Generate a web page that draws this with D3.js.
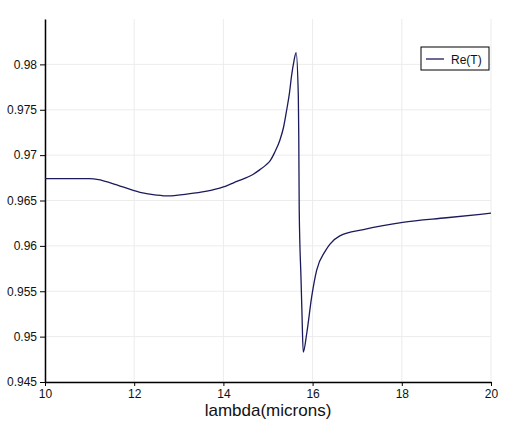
<!DOCTYPE html>
<html>
<head>
<meta charset="utf-8">
<script src="https://cdn.jsdelivr.net/npm/d3@7"></script>
<style>
body { margin:0; background:#fff; }
svg { font-family: "Liberation Sans", Arial, sans-serif; }
.grid line { stroke:#ececec; stroke-width:1; }
.axis path, .axis line { stroke:#000; }
.axis text { font-size:12px; fill:#111; }
</style>
</head>
<body>
<svg></svg>
<script>
// lambda (microns)
var lambda = [10, 10.5, 11, 11.2, 11.5, 12.13, 12.5, 12.76, 13.18, 13.6, 14.0, 14.3, 14.67, 14.82, 14.95, 15.05, 15.15,
              15.27, 15.35, 15.42, 15.48, 15.53, 15.58, 15.63, 15.68, 15.69, 15.70, 15.74, 15.76, 15.79, 15.87, 15.98,
              16.09, 16.28, 16.39, 16.61, 17.14, 18.02, 19.0, 20]
// Re(T)
var reT = [0.9674, 0.9674, 0.9674, 0.9673, 0.9669, 0.9659, 0.9656, 0.9655, 0.9657, 0.9660, 0.9665, 0.9671, 0.9679, 0.9684, 0.9689, 0.9694, 0.9703,
           0.9717, 0.9731, 0.9750, 0.9768, 0.9788, 0.9803, 0.9813, 0.9765, 0.9720, 0.9640, 0.9564, 0.9529, 0.9483, 0.9504, 0.9544,
           0.9573, 0.9594, 0.9602, 0.9611, 0.9618, 0.9626, 0.9631, 0.9636]
var xTicks = [10, 12, 14, 16, 18, 20]
var yTicks = [0.945, 0.95, 0.955, 0.96, 0.965, 0.97, 0.975, 0.98]

var screen = {width:511, height:425}
var margins = {top:19, right:20, bottom:43, left:45}
var width = screen.width - margins.left - margins.right
var height = screen.height - margins.top - margins.bottom

var svg = d3.select("svg")
  .attr("width", screen.width)
  .attr("height", screen.height)

var g = svg.append("g")
  .attr("transform", "translate(" + margins.left + "," + margins.top + ")")

var xScale = d3.scaleLinear().domain([10, 20]).range([0, width])
var yScale = d3.scaleLinear().domain([0.945, 0.985]).range([height, 0])

// grid
g.append("g").attr("class", "grid")
  .selectAll("line").data(xTicks).enter().append("line")
  .attr("x1", function(d){ return xScale(d) }).attr("x2", function(d){ return xScale(d) })
  .attr("y1", 0).attr("y2", height)
g.append("g").attr("class", "grid")
  .selectAll("line").data(yTicks).enter().append("line")
  .attr("x1", 0).attr("x2", width)
  .attr("y1", function(d){ return yScale(d) }).attr("y2", function(d){ return yScale(d) })

// axes
g.append("g").attr("class", "axis")
  .attr("transform", "translate(0," + height + ")")
  .call(d3.axisBottom(xScale).tickValues(xTicks).tickSize(4).tickPadding(3).tickSizeOuter(0))
  .select(".domain").attr("stroke-width", 1.5)
g.append("g").attr("class", "axis")
  .call(d3.axisLeft(yScale).tickValues(yTicks).tickFormat(d3.format("")).tickSize(5).tickPadding(3).tickSizeOuter(0))
  .select(".domain").attr("stroke-width", 1.5)

// curve
var pts = lambda.map(function(l, i){ return [l, reT[i]] })
var line = d3.line()
  .x(function(d){ return xScale(d[0]) })
  .y(function(d){ return yScale(d[1]) })
  .curve(d3.curveMonotoneX)
g.append("path").datum(pts)
  .attr("d", line)
  .attr("fill", "none")
  .attr("stroke", "#1a1a5c")
  .attr("stroke-width", 1.3)

// x label
svg.append("text")
  .attr("x", margins.left + width / 2)
  .attr("y", 416)
  .attr("text-anchor", "middle")
  .attr("font-size", 17)
  .attr("fill", "#111")
  .text("lambda(microns)")

// legend
var lg = svg.append("g").attr("transform", "translate(421,47)")
lg.append("rect").attr("width", 68).attr("height", 23)
  .attr("fill", "#fff").attr("stroke", "#000").attr("stroke-width", 1)
lg.append("line").attr("x1", 5).attr("x2", 23).attr("y1", 12).attr("y2", 12)
  .attr("stroke", "#1a1a5c").attr("stroke-width", 1.3)
lg.append("text").attr("x", 30).attr("y", 16.5)
  .attr("font-size", 12).attr("fill", "#111").text("Re(T)")
</script>
</body>
</html>
